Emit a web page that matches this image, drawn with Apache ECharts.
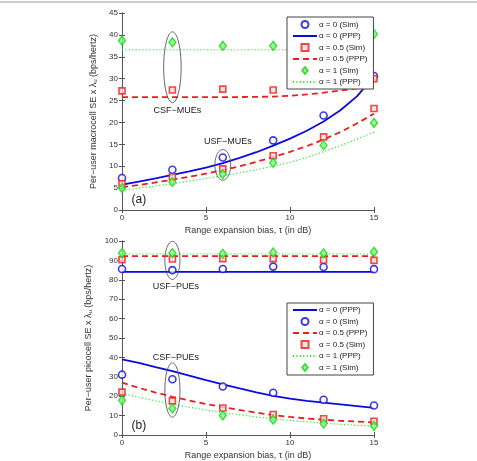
<!DOCTYPE html>
<html>
<head>
<meta charset="utf-8">
<script src="https://cdn.jsdelivr.net/npm/echarts@6/dist/echarts.min.js"></script>
<style>
  html, body { margin: 0; padding: 0; background: #fff; }
  #chart { width: 477px; height: 461px; }
</style>
</head>
<body>
<div id="chart"></div>
<script>
// x positions
const simX = [0, 3, 6, 9, 12, 15]
const pppX = [0, 1, 2, 3, 4, 5, 6, 7, 8, 9, 10, 11, 12, 13, 14, 15]

// (a) macrocell
const macroSim0 = [7.3, 9.2, 12.0, 15.9, 21.6, 30.6]
const macroPpp0 = [5.8, 6.5, 7.2, 8.0, 8.8, 9.7, 10.7, 11.9, 13.2, 14.7, 16.3, 18.1, 20.2, 22.8, 26.0, 30.6]
const macroSim05Csf = [27.2, 27.4, 27.6, 27.4, 28.5, 30.0]
const macroSim05Usf = [6.0, 7.6, 9.4, 12.4, 16.7, 23.2]
const macroPpp05Csf = [25.8, 25.8, 25.8, 25.8, 25.8, 25.8, 25.8, 25.8, 25.85, 25.9, 26.1, 26.4, 26.8, 27.3, 27.8, 28.4]
const macroPpp05Usf = [5.2, 5.7, 6.3, 6.9, 7.6, 8.3, 9.1, 10.0, 11.0, 12.1, 13.3, 14.6, 16.1, 17.8, 19.8, 22.0]
const macroSim1Csf = [38.7, 38.3, 37.5, 37.5, 37.3, 40.2]
const macroSim1Usf = [5.0, 6.4, 8.2, 10.8, 14.8, 19.9]
const macroPpp1Csf = [36.6, 36.6, 36.6, 36.6, 36.6, 36.6, 36.6, 36.6, 36.6, 36.6, 36.6, 36.6, 36.6, 36.6, 36.6, 36.6]
const macroPpp1Usf = [4.5, 5.0, 5.5, 6.0, 6.6, 7.2, 7.8, 8.5, 9.2, 10.0, 10.9, 12.0, 13.3, 14.7, 16.2, 17.8]

// (b) picocell
const picoSim0Usf = [85.6, 85.0, 85.6, 86.8, 86.6, 85.5]
const picoSim0Csf = [31.1, 28.7, 25.0, 21.8, 18.2, 15.2]
const picoPpp0Usf = [84.1, 84.1, 84.1, 84.1, 84.1, 84.1, 84.1, 84.1, 84.1, 84.1, 84.1, 84.1, 84.1, 84.1, 84.1, 84.1]
const picoPpp0Csf = [39.0, 37.2, 35.0, 32.9, 30.6, 28.3, 26.1, 24.0, 22.0, 20.2, 18.7, 17.6, 16.7, 15.8, 14.9, 14.0]
const picoSim05Usf = [90.4, 90.7, 90.9, 90.9, 90.2, 90.0]
const picoSim05Csf = [22.1, 17.6, 13.9, 10.6, 8.4, 7.1]
const picoPpp05Usf = [92.2, 92.2, 92.2, 92.2, 92.2, 92.2, 92.2, 92.2, 92.2, 92.2, 92.2, 92.2, 92.2, 92.2, 92.2, 92.2]
const picoPpp05Csf = [27.0, 24.3, 21.9, 19.7, 17.8, 16.0, 14.4, 12.9, 11.5, 10.3, 9.3, 8.5, 7.9, 7.3, 6.9, 6.5]
const picoSim1Usf = [93.8, 93.8, 93.4, 94.1, 93.6, 94.4]
const picoSim1Csf = [17.9, 13.7, 10.1, 7.9, 5.9, 4.7]
const picoPpp1Usf = [93.3, 93.3, 93.3, 93.3, 93.3, 93.3, 93.3, 93.3, 93.3, 93.3, 93.3, 93.3, 93.3, 93.3, 93.3, 93.3]
const picoPpp1Csf = [21.5, 19.5, 17.6, 15.9, 14.3, 12.9, 11.6, 10.4, 9.3, 8.3, 7.5, 6.8, 6.1, 5.5, 5.0, 4.6]

// annotations: [x, y, rx, ry] in data units
const topEllipses = [[3, 32.6, 0.52, 8.1], [6, 10.3, 0.47, 3.5]]
const botEllipses = [[3, 90, 0.45, 9.8], [3, 23.2, 0.45, 14]]
const topTexts = ['CSF−MUEs', 'USF−MUEs', '(a)']
const topTextPos = [[3.3, 22.8], [6.3, 15.6], [1.0, 2.3]]
const botTexts = ['USF−PUEs', 'CSF−PUEs', '(b)']
const botTextPos = [[3.2, 76.5], [3.2, 39.7], [1.0, 4.7]]

const BLUE = '#0a0ae0'
const RED = '#ee1c1c'
const GREEN = '#2ee82e'
const FONT = 'Liberation Sans'

const names = {
  s0: 'α = 0 (Sim)', p0: 'α = 0 (PPP)',
  s05: 'α = 0.5 (Sim)', p05: 'α = 0.5 (PPP)',
  s1: 'α = 1 (Sim)', p1: 'α = 1 (PPP)'
}

const zip = (xs, ys) => xs.map((x, i) => [x, ys[i]])

const styles = {
  s0: { type: 'scatter', symbol: 'circle', symbolSize: 7, itemStyle: { color: '#fff', borderColor: BLUE, borderWidth: 1.6 } },
  s05: { type: 'scatter', symbol: 'rect', symbolSize: 6, itemStyle: { color: '#fdd', borderColor: RED, borderWidth: 1.6 } },
  s1: { type: 'scatter', symbol: 'diamond', symbolSize: [7, 9], itemStyle: { color: '#7f7', borderColor: '#1ed21e', borderWidth: 1.4 } },
  p0: { type: 'line', symbol: 'none', lineStyle: { color: BLUE, width: 1.8 }, itemStyle: { color: BLUE } },
  p05: { type: 'line', symbol: 'none', lineStyle: { color: RED, width: 1.8, type: [6, 4] }, itemStyle: { color: RED } },
  p1: { type: 'line', symbol: 'none', lineStyle: { color: GREEN, width: 1.2, type: [1.2, 2.2] }, itemStyle: { color: GREEN } }
}

function mk(key, xs, ys, gi) {
  return Object.assign({}, styles[key], {
    name: names[key],
    xAxisIndex: gi * 2,
    yAxisIndex: gi * 2,
    data: zip(xs, ys),
    z: key[0] === 's' ? 3 : 2,
    animation: false
  })
}

function ellipseSeries(list, gi) {
  return {
    type: 'custom', name: 'ell' + gi, xAxisIndex: gi * 2, yAxisIndex: gi * 2,
    data: list, z: 4, animation: false, silent: true,
    renderItem: (params, api) => {
      const c = api.coord([api.value(0), api.value(1)])
      const sz = api.size([api.value(2), api.value(3)])
      const pts = []
      for (let i = 0; i <= 60; i++) {
        const t = i / 60 * 2 * Math.PI
        pts.push([c[0] + sz[0] * Math.cos(t), c[1] + sz[1] * Math.sin(t)])
      }
      return { type: 'polyline', shape: { points: pts }, style: { fill: 'none', stroke: '#555', lineWidth: 0.9 } }
    }
  }
}

function textSeries(texts, pos, gi) {
  return {
    type: 'custom', name: 'txt' + gi, xAxisIndex: gi * 2, yAxisIndex: gi * 2,
    data: pos, z: 4, animation: false, silent: true,
    renderItem: (params, api) => {
      const c = api.coord([api.value(0), api.value(1)])
      const t = texts[params.dataIndex]
      const big = t[0] === '('
      return {
        type: 'text', x: c[0], y: c[1],
        style: { text: t, fill: '#222', fontFamily: FONT, fontSize: big ? 12 : 9, align: 'center', verticalAlign: 'middle' }
      }
    }
  }
}

const gridBox = { left: 122, width: 252, height: 197 }

function axesFor(gi, yMax, yInterval, yName) {
  const common = { type: 'value', gridIndex: gi, min: 0 }
  const line = { show: true, lineStyle: { color: '#555', width: 1 } }
  const ticks = { show: true, inside: true, length: 3, lineStyle: { color: '#555' } }
  const lab = { color: '#333', fontSize: 8, fontFamily: FONT }
  return {
    x: [
      Object.assign({}, common, { max: 15, interval: 5, position: 'bottom', axisLine: line, axisTick: ticks,
        axisLabel: Object.assign({ margin: 4 }, lab), splitLine: { show: false },
        name: 'Range expansion bias, τ (in dB)', nameLocation: 'middle', nameGap: 16,
        nameTextStyle: { color: '#333', fontSize: 9, fontFamily: FONT } }),
      Object.assign({}, common, { max: 15, interval: 5, position: 'top', axisLine: line, axisTick: ticks,
        axisLabel: { show: false }, splitLine: { show: false } })
    ],
    y: [
      Object.assign({}, common, { max: yMax, interval: yInterval, position: 'left', axisLine: line, axisTick: ticks,
        axisLabel: Object.assign({ margin: 4 }, lab), splitLine: { show: false },
        name: yName, nameLocation: 'middle', nameGap: 15, nameRotate: 90,
        nameTextStyle: { color: '#333', fontSize: 9, fontFamily: FONT, rich: { sub: { fontSize: 6, verticalAlign: 'bottom', padding: [4, 0, 0, 0], fontFamily: FONT, color: '#333' } } } }),
      Object.assign({}, common, { max: yMax, interval: yInterval, position: 'right', axisLine: line, axisTick: ticks,
        axisLabel: { show: false }, splitLine: { show: false } })
    ]
  }
}

const a0 = axesFor(0, 45, 5, 'Per−user macrocell SE x λ{sub|u} (bps/hertz)')
const a1 = axesFor(1, 100, 10, 'Per−user picocell SE x λ{sub|u} (bps/hertz)')

const legendBase = {
  orient: 'vertical', backgroundColor: '#fff', borderColor: '#444', borderWidth: 1,
  itemWidth: 24, itemHeight: 7, itemGap: 3, padding: [3, 6, 3, 5],
  textStyle: { fontSize: 8, color: '#222', fontFamily: FONT, padding: [0, 0, 0, -3] },
  selectedMode: false, z: 10
}

// legend entries: markers keep their aspect through path icons, lines hide their dot
const legendItem = {
  s0: { name: names.s0 },
  s05: { name: names.s05, icon: 'path://M0,0L10,0L10,10L0,10Z' },
  s1: { name: names.s1, icon: 'path://M4,0L8,5L4,10L0,5Z' },
  p0: { name: names.p0, itemStyle: { opacity: 0 } },
  p05: { name: names.p05, itemStyle: { opacity: 0 } },
  p1: { name: names.p1, itemStyle: { opacity: 0 } }
}

const series = [
  mk('p0', pppX, macroPpp0, 0),
  mk('p05', pppX, macroPpp05Csf, 0), mk('p05', pppX, macroPpp05Usf, 0),
  mk('p1', pppX, macroPpp1Csf, 0), mk('p1', pppX, macroPpp1Usf, 0),
  mk('s0', simX, macroSim0, 0),
  mk('s05', simX, macroSim05Csf, 0), mk('s05', simX, macroSim05Usf, 0),
  mk('s1', simX, macroSim1Csf, 0), mk('s1', simX, macroSim1Usf, 0),
  mk('p0', pppX, picoPpp0Usf, 1), mk('p0', pppX, picoPpp0Csf, 1),
  mk('p05', pppX, picoPpp05Usf, 1), mk('p05', pppX, picoPpp05Csf, 1),
  mk('p1', pppX, picoPpp1Usf, 1), mk('p1', pppX, picoPpp1Csf, 1),
  mk('s0', simX, picoSim0Usf, 1), mk('s0', simX, picoSim0Csf, 1),
  mk('s05', simX, picoSim05Usf, 1), mk('s05', simX, picoSim05Csf, 1),
  mk('s1', simX, picoSim1Usf, 1), mk('s1', simX, picoSim1Csf, 1),
  ellipseSeries(topEllipses, 0), ellipseSeries(botEllipses, 1),
  textSeries(topTexts, topTextPos, 0), textSeries(botTexts, botTextPos, 1)
]

const chart = echarts.init(document.getElementById('chart'), null, { renderer: 'canvas' })
chart.setOption({
  backgroundColor: '#fff',
  animation: false,
  textStyle: { fontFamily: FONT },
  graphic: [{ type: 'line', shape: { x1: 0, y1: 2, x2: 477, y2: 2 }, style: { stroke: '#999', lineWidth: 1 } }],
  grid: [
    Object.assign({ top: 13 }, gridBox),
    Object.assign({ top: 241 }, gridBox)
  ],
  xAxis: a0.x.concat(a1.x),
  yAxis: a0.y.concat(a1.y),
  legend: [
    Object.assign({}, legendBase, { left: 287, top: 17,
      data: ['s0', 'p0', 's05', 'p05', 's1', 'p1'].map(k => legendItem[k]) }),
    Object.assign({}, legendBase, { left: 287, top: 303,
      data: ['p0', 's0', 'p05', 's05', 'p1', 's1'].map(k => legendItem[k]) })
  ],
  series: series
})
</script>
</body>
</html>
